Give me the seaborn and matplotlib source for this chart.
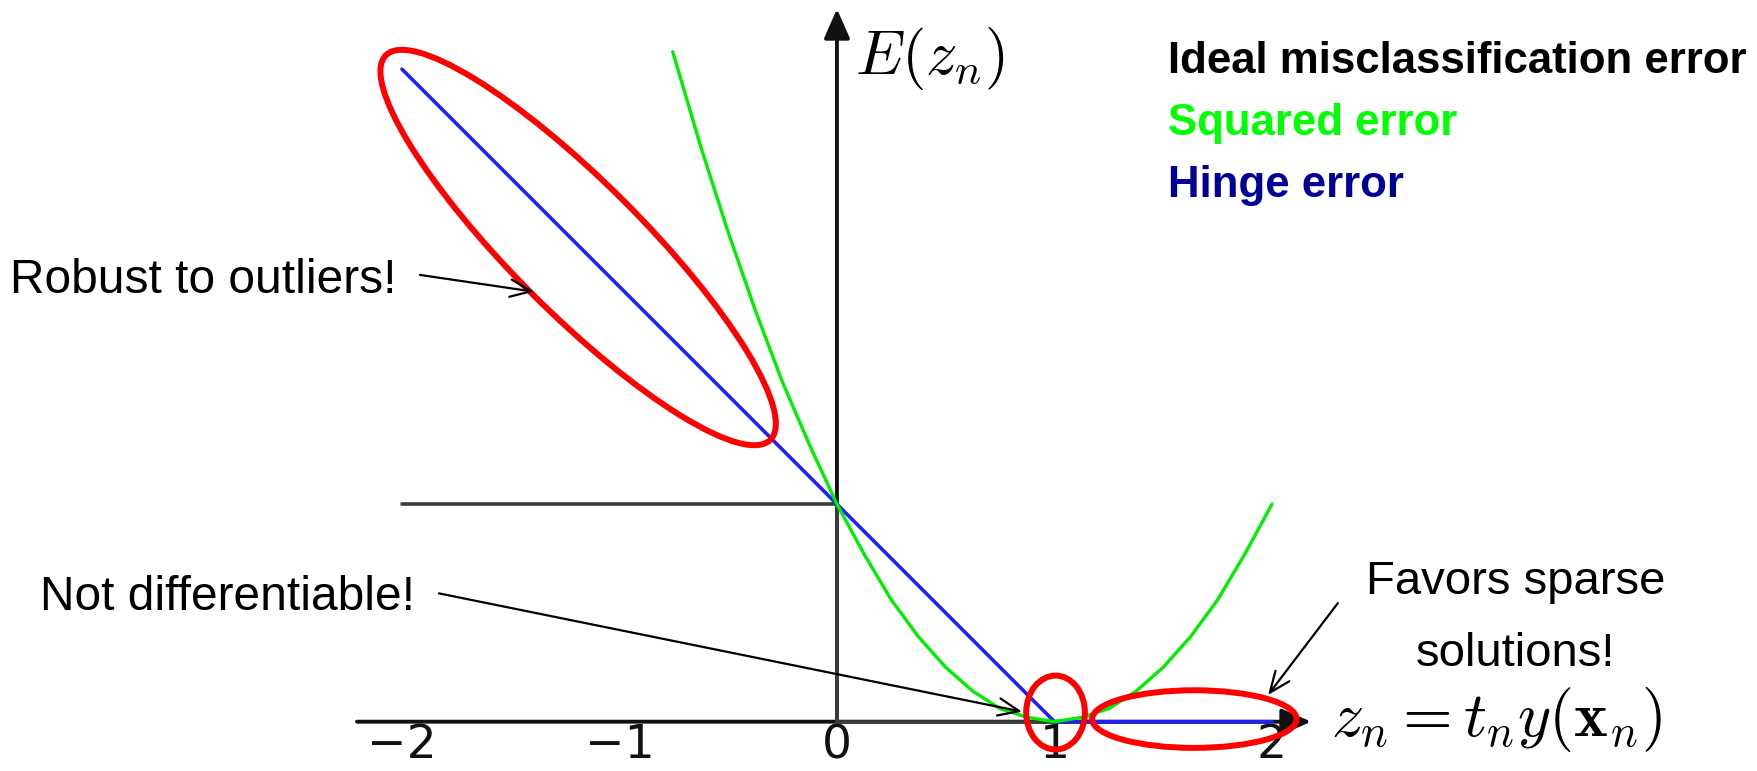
import matplotlib
matplotlib.use('Agg')
from matplotlib import pyplot as plt
from matplotlib.patches import Ellipse
import seaborn as sns
import pandas as pd

sns.set_theme(style='white')
plt.rcParams['font.family'] = ['Liberation Sans', 'DejaVu Sans']
plt.rcParams['mathtext.fontset'] = 'cm'
plt.rcParams['text.color'] = 'black'

# loss curves, z_n on x, E(z_n) on y
hinge_z = [-2.0, 1.0, 2.0]
hinge_e = [3.0, 0.0, 0.0]
ideal_z = [-2.0, 0.0, 0.0, 2.0]
ideal_e = [1.0, 1.0, 0.0, 0.0]
square_z = [-0.755, -0.625, -0.5, -0.375, -0.25, -0.125, 0.0, 0.125, 0.25, 0.375, 0.5, 0.625,
            0.75, 0.875, 1.0, 1.125, 1.25, 1.375, 1.5, 1.625, 1.75, 1.875, 2.0]
square_e = [3.08, 2.64, 2.25, 1.89, 1.56, 1.27, 1.0, 0.77, 0.56, 0.39, 0.25, 0.14,
            0.06, 0.02, 0.0, 0.02, 0.06, 0.14, 0.25, 0.39, 0.56, 0.77, 1.0]
tick_pos = [-2, -1, 0, 1, 2]
tick_labels = ['\u22122', '\u22121', '0', '1', '2']
legend_labels = ['Ideal misclassification error', 'Squared error', 'Hinge error']
legend_colors = ['black', '#00ff00', '#000099']

df_hinge = pd.DataFrame({'z': hinge_z, 'E': hinge_e})
df_ideal = pd.DataFrame({'z': ideal_z, 'E': ideal_e})
df_square = pd.DataFrame({'z': square_z, 'E': square_e})

fig = plt.figure(figsize=(17.57, 7.71), dpi=100)
ax = fig.add_axes([0, 0, 1, 1])
ax.set_xlim(-3.848, 4.230)
ax.set_ylim(-0.2267, 3.318)

# axes with arrow heads
arr = dict(arrowstyle='-|>,head_length=0.5,head_width=0.22', color='#111111',
           lw=2.8, mutation_scale=36, shrinkA=0, shrinkB=0)
ax.annotate('', xy=(2.18, 0), xytext=(-2.207, 0), arrowprops=arr, zorder=1)
ax.annotate('', xy=(0, 3.277), xytext=(0, 0), arrowprops=arr, zorder=1)

sns.lineplot(data=df_ideal, x='z', y='E', sort=False, estimator=None, color='#3c3c3c',
             lw=2.6, ax=ax, zorder=2)
sns.lineplot(data=df_hinge, x='z', y='E', sort=False, estimator=None, color='#1f1fff',
             lw=2.6, ax=ax, zorder=3)
sns.lineplot(data=df_square, x='z', y='E', sort=False, estimator=None, color='#00ee00',
             lw=2.4, ax=ax, zorder=4)

for s in ax.spines.values():
    s.set_visible(False)
ax.spines['bottom'].set_position(('data', 0))
ax.set_xticks(tick_pos)
ax.set_xticklabels(tick_labels, fontsize=34, family=['DejaVu Sans'])
ax.tick_params(axis='x', length=0, pad=1, colors='#111111')
ax.set_yticks([])
ax.set_xlabel('')
ax.set_ylabel('')
ax.grid(False)

# axis labels
ax.text(0.085, 2.976, r'$E(z_n)$', fontsize=45, ha='left', va='baseline')
ax.text(2.27, -0.064, r'$z_n = t_n y(\mathbf{x}_n)$', fontsize=46, ha='left', va='baseline')

# legend as coloured text
for i, (lab, col) in enumerate(zip(legend_labels, legend_colors)):
    ax.text(1.52, 2.982 - i * 0.285, lab, color=col, fontsize=31.5, fontweight='bold',
            ha='left', va='baseline')

# red ellipses
red = dict(fill=False, edgecolor='#ff0000', lw=4.3, zorder=5)
ax.add_patch(Ellipse((-1.19, 2.18), 2.5, 0.6, angle=-45, **red))
ax.add_patch(Ellipse((1.005, 0.042), 0.27, 0.34, **red))
ax.add_patch(Ellipse((1.643, 0.012), 0.94, 0.265, **red))

# annotations
note = dict(arrowstyle='->,head_length=0.6,head_width=0.25', color='black', lw=1.6,
            mutation_scale=25, shrinkA=0, shrinkB=0)
ax.text(-2.027, 1.971, 'Robust to outliers!', fontsize=34.5, ha='right', va='baseline')
ax.annotate('', xy=(-1.393, 1.977), xytext=(-1.917, 2.054), arrowprops=note, zorder=6)

ax.text(-1.94, 0.514, 'Not differentiable!', fontsize=34.5, ha='right', va='baseline')
ax.annotate('', xy=(0.851, 0.046), xytext=(-1.83, 0.59), arrowprops=note, zorder=6)

ax.text(3.121, 0.587, 'Favors sparse', fontsize=34, ha='center', va='baseline')
ax.text(3.121, 0.256, 'solutions!', fontsize=34, ha='center', va='baseline')
ax.annotate('', xy=(1.982, 0.123), xytext=(2.303, 0.545), arrowprops=note, zorder=6)

plt.savefig('out.png', dpi=100)
